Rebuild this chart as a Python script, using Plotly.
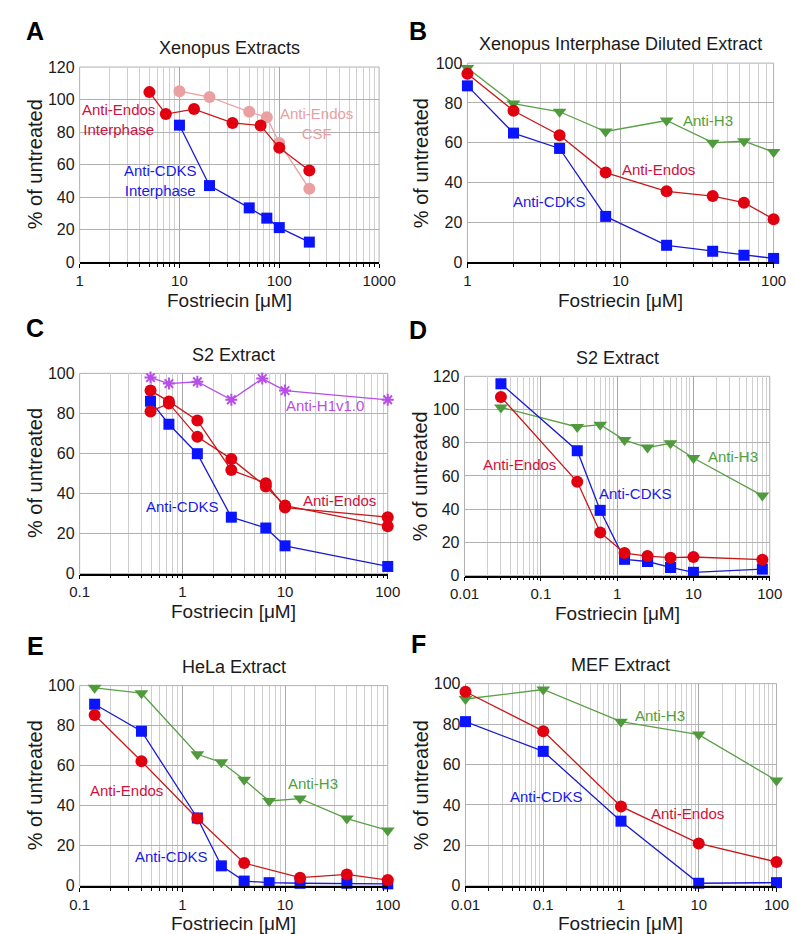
import plotly.graph_objects as go

W, H = 797, 934

# ---------------- data ----------------
A_endos_int_x = [5, 7.3, 14, 34, 65, 100, 200]
A_endos_int_y = [104.6, 91.1, 94.2, 85.7, 84.1, 70.4, 56.5]
A_endos_csf_x = [10, 20, 50, 75, 100, 200]
A_endos_csf_y = [105.2, 101.6, 92.5, 89.1, 73.4, 45.2]
A_cdks_x = [10, 20, 50, 75, 100, 200]
A_cdks_y = [84.3, 47.2, 33.5, 27.2, 21.4, 12.5]

B_x = [1, 2, 4, 8, 20, 40, 64, 100]
B_h3 = [97.5, 79.7, 75.6, 65.7, 71.2, 60.1, 60.8, 55.4]
B_endos = [94.7, 76.1, 63.8, 45.1, 35.7, 33.3, 30.0, 21.7]
B_cdks = [88.6, 64.9, 57.2, 23.1, 8.6, 5.6, 3.6, 2.0]

C_x = [0.49, 0.74, 1.4, 3, 6.5, 10, 100]
C_h1_x = [0.49, 0.74, 1.4, 3, 6, 10, 100]
C_h1 = [97.9, 94.9, 95.8, 86.8, 97.4, 91.4, 86.8]
C_endos1 = [91.4, 86.0, 76.5, 51.7, 45.2, 33.0, 28.2]
C_endos2 = [81.0, 85.0, 68.3, 57.3, 43.5, 34.0, 23.7]
C_cdks = [86.1, 74.6, 59.9, 28.2, 22.8, 13.9, 3.6]

D_x = [0.03, 0.3, 0.6, 1.25, 2.5, 5, 10, 80]
D_h3 = [101.3, 89.5, 90.9, 81.6, 77.1, 79.7, 70.8, 48.2]
D_endos = [107.6, 56.5, 26.0, 13.6, 11.8, 10.8, 11.2, 9.6]
D_cdks = [115.5, 75.2, 39.3, 9.8, 8.5, 4.9, 2.0, 3.9]

E_x = [0.14, 0.4, 1.4, 2.4, 4, 7, 14, 40, 100]
E_h3 = [98.9, 96.2, 65.7, 61.7, 53.0, 42.4, 43.6, 33.6, 27.7]
E_cdks = [90.7, 77.2, 33.9, 10.0, 2.4, 1.6, 1.3, 1.3, 1.0]
E_endos_x = [0.14, 0.4, 1.4, 4, 14, 40, 100]
E_endos = [85.3, 62.2, 33.6, 11.4, 4.1, 5.7, 2.9]

F_x = [0.01, 0.1, 1, 10, 100]
F_h3 = [92.4, 97.1, 81.2, 74.8, 52.1]
F_endos = [96.0, 76.5, 39.3, 21.0, 11.8]
F_cdks = [81.2, 66.5, 32.0, 1.3, 1.6]

titles = ["Xenopus Extracts", "Xenopus Interphase Diluted Extract", "S2 Extract",
          "S2 Extract", "HeLa Extract", "MEF Extract"]
letters = ["A", "B", "C", "D", "E", "F"]

# ---------------- styles ----------------
FONT = "Liberation Sans, Arial, Helvetica, sans-serif"
RED_M, RED_L, RED_T = "#e00010", "#c81818", "#d0103c"
BLUE_M, BLUE_L, BLUE_T = "#0a14ff", "#1a1ad0", "#1a1ae6"
GREEN_M, GREEN_L, GREEN_T = "#4f9a3c", "#5aa046", "#52a03c"
PINK = "#eaa0a0"
PURPLE = "#b84ee8"

# panel geometry in pixels: (x0, x1, ytop, ybottom), log x range, y max
panels = [
    (59, 371, 52, 251, [0, 3], 120),
    (463, 782, 48, 251, [0, 2], 100),
    (59, 380, 364, 568, [-1, 2], 100),
    (460, 778, 367, 570, [-2, 2], 120),
    (59, 380, 682, 886, [-1, 2], 100),
    (461, 785, 680, 886, [-2, 2], 100),
]

fig = go.Figure()


def add(i, x, y, lc, mc, sym, size, lw=1.3, mline=None):
    ax = "" if i == 0 else str(i + 1)
    marker = dict(color=mc, size=size, symbol=sym)
    if mline:
        marker["line"] = mline
    fig.add_trace(go.Scatter(x=x, y=y, mode="lines+markers", xaxis="x" + ax, yaxis="y" + ax,
                             line=dict(color=lc, width=lw), marker=marker,
                             cliponaxis=False, showlegend=False, hoverinfo="x+y"))


# A
add(0, A_endos_csf_x, A_endos_csf_y, PINK, PINK, "circle", 12)
add(0, A_endos_int_x, A_endos_int_y, RED_L, RED_M, "circle", 12)
add(0, A_cdks_x, A_cdks_y, BLUE_L, BLUE_M, "square", 11)
# B
add(1, B_x, B_h3, GREEN_L, GREEN_M, "triangle-down", 12)
add(1, B_x, B_cdks, BLUE_L, BLUE_M, "square", 11)
add(1, B_x, B_endos, RED_L, RED_M, "circle", 12)
# C
add(2, C_h1_x, C_h1, PURPLE, PURPLE, "asterisk-open", 10, mline=dict(color=PURPLE, width=2))
add(2, C_x, C_cdks, BLUE_L, BLUE_M, "square", 11)
add(2, C_x, C_endos1, RED_L, RED_M, "circle", 12)
add(2, C_x, C_endos2, RED_L, RED_M, "circle", 12)
# D
add(3, D_x, D_h3, GREEN_L, GREEN_M, "triangle-down", 12)
add(3, D_x, D_cdks, BLUE_L, BLUE_M, "square", 11)
add(3, D_x, D_endos, RED_L, RED_M, "circle", 12)
# E
add(4, E_x, E_h3, GREEN_L, GREEN_M, "triangle-down", 12)
add(4, E_x, E_cdks, BLUE_L, BLUE_M, "square", 11)
add(4, E_endos_x, E_endos, RED_L, RED_M, "circle", 12)
# F
add(5, F_x, F_h3, GREEN_L, GREEN_M, "triangle-down", 12)
add(5, F_x, F_cdks, BLUE_L, BLUE_M, "square", 11)
add(5, F_x, F_endos, RED_L, RED_M, "circle", 12)


def fmt(v):
    if v >= 1:
        return str(int(round(v)))
    return ("%g" % v)


layout = dict(width=W, height=H, margin=dict(l=0, r=0, t=0, b=0),
              paper_bgcolor="white", plot_bgcolor="white",
              font=dict(family=FONT, color="#1a1a1a"))
annotations = []
shapes = []
for i, (x0, x1, yt, yb, xr, ymax) in enumerate(panels):
    ax = "" if i == 0 else str(i + 1)
    decs = list(range(xr[0], xr[1] + 1))
    major = [10.0 ** d for d in decs]
    minor = [k * 10.0 ** d for d in decs[:-1] for k in range(2, 10)]
    layout["xaxis" + ax] = dict(
        type="log", range=xr, domain=[x0 / W, x1 / W], anchor="y" + ax,
        tickvals=major, ticktext=[fmt(v) for v in major],
        ticks="outside", ticklen=4, tickcolor="#000", tickwidth=1,
        showgrid=True, gridcolor="#a8a8a8", gridwidth=1,
        showline=True, linecolor="#000", linewidth=1.5,
        tickfont=dict(size=15, family=FONT, color="#1a1a1a"),
        zeroline=False, fixedrange=True,
        minor=dict(tickvals=minor, ticks="outside", ticklen=3, tickcolor="#000",
                   showgrid=True, gridcolor="#cfcfcf", gridwidth=1),
    )
    layout["yaxis" + ax] = dict(
        range=[0, ymax], domain=[1 - yb / H, 1 - yt / H], anchor="x" + ax,
        tickvals=list(range(0, ymax + 1, 20)), ticks="", showgrid=True,
        gridcolor="#b0b0b0", gridwidth=1, showline=False, zeroline=False,
        tickfont=dict(size=16, family=FONT, color="#1a1a1a"), ticklabelstandoff=4,
        fixedrange=True,
    )
    xref = "x" + ax + " domain"
    yref = "y" + ax + " domain"
    shapes.append(dict(type="rect", xref=xref, yref=yref, x0=0, x1=1, y0=0, y1=1,
                       line=dict(color="#b0b0b0", width=1), layer="below"))
    cx = (x0 + x1) / 2
    # title
    annotations.append(dict(text=titles[i], xref="paper", yref="paper",
                            x=cx / W, y=1 - (yt - 19) / H, showarrow=False,
                            xanchor="center", yanchor="middle",
                            font=dict(size=18, family=FONT, color="#1a1a1a")))
    # x-axis title
    annotations.append(dict(text="Fostriecin [μM]", xref="paper", yref="paper",
                            x=cx / W, y=1 - (yb + 26) / H, showarrow=False,
                            xanchor="center", yanchor="top",
                            font=dict(size=19, family=FONT, color="#1a1a1a")))
    # y-axis title
    yx = 12 if x0 < 200 else 414
    annotations.append(dict(text="% of untreated", xref="paper", yref="paper",
                            x=yx / W, y=1 - ((yt + yb) / 2) / H, showarrow=False,
                            textangle=-90, xanchor="center", yanchor="middle",
                            font=dict(size=20, family=FONT, color="#1a1a1a")))

# panel letters
letter_pos = [(13, 15), (412, 15), (12, 318), (412, 320), (13, 642), (412, 640)]
for L, (lx, ly) in zip(letters, letter_pos):
    annotations.append(dict(text="<b>" + L + "</b>", xref="paper", yref="paper",
                            x=lx / W, y=1 - ly / H, showarrow=False,
                            xanchor="center", yanchor="middle",
                            font=dict(size=25, family=FONT, color="#000")))

# series labels (pixel positions)
labels = [
    ("Anti-Endos<br>Interphase", 99, 105, RED_T),
    ("Anti-Endos<br>CSF", 306, 110, PINK),
    ("Anti-CDKS<br>Interphase", 143, 168, BLUE_T),
    ("Anti-H3", 714, 106, GREEN_T),
    ("Anti-Endos", 662, 156, RED_T),
    ("Anti-CDKS", 549, 189, BLUE_T),
    ("Anti-H1v1.0", 315, 397, PURPLE),
    ("Anti-Endos", 330, 493, RED_T),
    ("Anti-CDKS", 166, 500, BLUE_T),
    ("Anti-Endos", 517, 457, RED_T),
    ("Anti-CDKS", 638, 486, BLUE_T),
    ("Anti-H3", 740, 449, GREEN_T),
    ("Anti-Endos", 108, 789, RED_T),
    ("Anti-CDKS", 155, 856, BLUE_T),
    ("Anti-H3", 302, 782, GREEN_T),
    ("Anti-H3", 664, 712, GREEN_T),
    ("Anti-Endos", 692, 812, RED_T),
    ("Anti-CDKS", 545, 795, BLUE_T),
]
for t, lx, ly, c in labels:
    annotations.append(dict(text=t, xref="paper", yref="paper", x=lx / W, y=1 - ly / H,
                            showarrow=False, xanchor="center", yanchor="middle",
                            font=dict(size=15, family=FONT, color=c)))

layout["annotations"] = annotations
layout["shapes"] = shapes
fig.update_layout(**layout)
fig.write_html("out.html")
